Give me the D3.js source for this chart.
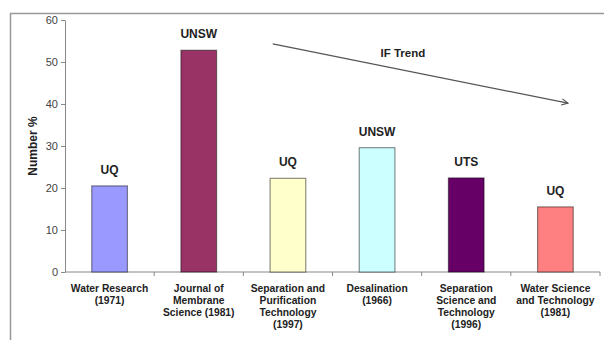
<!DOCTYPE html>
<html>
<head>
<meta charset="utf-8">
<script src="https://cdn.jsdelivr.net/npm/d3@7"></script>
<style>
  body { margin: 0; background: #fff; }
  svg { font-family: "Liberation Sans", Arial, sans-serif; }
</style>
</head>
<body>
<script>
const width = 604, height = 340;

// data
const categories = [
    ["Water Research", "(1971)"],
    ["Journal of", "Membrane", "Science (1981)"],
    ["Separation and", "Purification", "Technology", "(1997)"],
    ["Desalination", "(1966)"],
    ["Separation", "Science and", "Technology", "(1996)"],
    ["Water Science", "and Technology", "(1981)"]
];
const values = [20.5, 52.8, 22.3, 29.6, 22.4, 15.5];
const institutions = ["UQ", "UNSW", "UQ", "UNSW", "UTS", "UQ"];
const barColors = ["#9999ff", "#993366", "#ffffcc", "#ccffff", "#660066", "#ff8080"];
const yTicks = [0, 10, 20, 30, 40, 50, 60];
// trend arrow: [band position, value]
const trend = [[2.33, 54.3], [5.64, 40.2]];

const margin = {top: 20, right: 4, bottom: 68, left: 65};

const svg = d3.select('body').append('svg')
    .attr('width', width)
    .attr('height', height);

// outer frame
svg.append('path')
    .attr('d', 'M10.5,' + height + 'V13.5H' + width)
    .attr('fill', 'none')
    .attr('stroke', '#999')
    .attr('stroke-width', 1.5);

const x = d3.scaleBand()
    .domain(d3.range(categories.length))
    .range([margin.left, width - margin.right])
    .paddingInner(0.6)
    .paddingOuter(0.3);

const xPos = d3.scaleLinear()
    .domain([0, categories.length])
    .range([margin.left, width - margin.right]);

const y = d3.scaleLinear()
    .domain([0, 60])
    .range([height - margin.bottom, margin.top]);

// y axis
const yAxis = svg.append('g')
    .attr('transform', 'translate(' + margin.left + ',0)')
    .call(d3.axisLeft(y).tickValues(yTicks).tickSize(4).tickSizeOuter(0));
yAxis.select('.domain').attr('stroke', '#888');
yAxis.selectAll('.tick line').attr('stroke', '#888');
yAxis.selectAll('.tick text')
    .attr('fill', '#444')
    .attr('font-size', 11)
    .attr('x', -7);

// x axis (ticks between categories)
const xAxisG = svg.append('g')
    .attr('transform', 'translate(0,' + y(0) + ')');
xAxisG.append('line')
    .attr('x1', margin.left).attr('x2', width - margin.right)
    .attr('stroke', '#888');
xAxisG.selectAll('line.tick')
    .data(d3.range(1, categories.length + 1))
    .join('line')
    .attr('class', 'tick')
    .attr('x1', d => xPos(d)).attr('x2', d => xPos(d))
    .attr('y1', 0).attr('y2', 4)
    .attr('stroke', '#888');

// category labels
categories.forEach((lines, i) => {
    const t = svg.append('text')
        .attr('text-anchor', 'middle')
        .attr('font-size', 10.3)
        .attr('font-weight', 'bold')
        .attr('fill', '#222')
        .attr('y', y(0) + 20);
    lines.forEach((ln, j) => {
        t.append('tspan')
            .attr('x', x(i) + x.bandwidth() / 2)
            .attr('dy', j === 0 ? 0 : 12)
            .text(ln);
    });
});

// bars
svg.selectAll('rect.bar')
    .data(values)
    .join('rect')
    .attr('class', 'bar')
    .attr('x', (d, i) => x(i))
    .attr('y', d => y(d))
    .attr('width', x.bandwidth())
    .attr('height', d => y(0) - y(d))
    .attr('fill', (d, i) => barColors[i])
    .attr('stroke', 'rgba(0,0,0,0.45)')
    .attr('stroke-width', 1.2);

// institution labels
svg.selectAll('text.inst')
    .data(values)
    .join('text')
    .attr('class', 'inst')
    .attr('x', (d, i) => x(i) + x.bandwidth() / 2)
    .attr('y', d => y(d) - 12)
    .attr('text-anchor', 'middle')
    .attr('font-size', 12)
    .attr('font-weight', 'bold')
    .attr('fill', '#222')
    .text((d, i) => institutions[i]);

// y title
svg.append('text')
    .attr('transform', 'translate(37,' + y(30) + ') rotate(-90)')
    .attr('text-anchor', 'middle')
    .attr('font-size', 12)
    .attr('font-weight', 'bold')
    .attr('fill', '#222')
    .text('Number %');

// trend arrow
svg.append('defs').append('marker')
    .attr('id', 'arrow')
    .attr('viewBox', '0 0 10 10')
    .attr('refX', 9).attr('refY', 5)
    .attr('markerWidth', 6).attr('markerHeight', 6)
    .attr('orient', 'auto')
    .append('path')
    .attr('d', 'M1,1L9,5L1,9')
    .attr('fill', 'none')
    .attr('stroke', '#555')
    .attr('stroke-width', 1.5);

svg.append('line')
    .attr('x1', xPos(trend[0][0])).attr('y1', y(trend[0][1]))
    .attr('x2', xPos(trend[1][0])).attr('y2', y(trend[1][1]))
    .attr('stroke', '#555')
    .attr('stroke-width', 1.3)
    .attr('marker-end', 'url(#arrow)');

svg.append('text')
    .attr('x', xPos(3.79))
    .attr('y', y(51.2))
    .attr('text-anchor', 'middle')
    .attr('font-size', 11.5)
    .attr('font-weight', 'bold')
    .attr('fill', '#222')
    .text('IF Trend');
</script>
</body>
</html>
